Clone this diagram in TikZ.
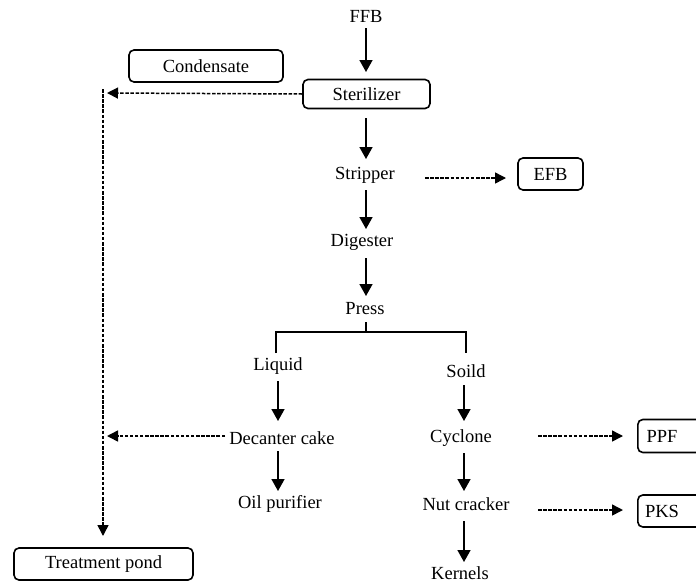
\documentclass[tikz,border=0pt]{standalone}
\usepackage{fontspec}
\setmainfont{Liberation Serif}
\usetikzlibrary{arrows.meta}
\begin{document}
\begin{tikzpicture}[x=1pt,y=-1pt,
  lbl/.style={font=\fontsize{18.5}{22}\selectfont, inner sep=0pt},
  box/.style={draw, line width=1.6pt, rounded corners=5pt, inner sep=0pt, font=\fontsize{18.5}{22}\selectfont},
  sarr/.style={line width=1.6pt, -{Triangle[length=12pt,width=13pt]}},
  darr/.style={line width=1.5pt, dash pattern=on 3.5pt off 1.6pt, -{Triangle[length=11pt,width=11pt]}},
  dline/.style={line width=1.5pt, dash pattern=on 3.5pt off 1.6pt},
  plain/.style={line width=1.6pt}]
\useasboundingbox (0,0) rectangle (696,584);
\begin{scope}
\clip (0,0) rectangle (696,584);
% nodes
\node[lbl] (ffb) at (366,16) {FFB};
\node[box, minimum width=127pt, minimum height=29pt] (ster) at (366.5,94) {Sterilizer};
\node[box, minimum width=154pt, minimum height=32pt] (cond) at (206,66) {Condensate};
\node[lbl] (strip) at (365,175) {Stripper};
\node[box, minimum width=65pt, minimum height=32pt] (efb) at (550.5,174) {EFB};
\node[lbl] (dig) at (362,242) {Digester};
\node[lbl] (press) at (365,309) {Press};
\node[lbl] (liq) at (278,366) {Liquid};
\node[lbl] (soild) at (466,371) {Soild};
\node[lbl] (dec) at (282,438) {Decanter cake};
\node[lbl] (cyc) at (461,438) {Cyclone};
\node[lbl] (oil) at (280,504) {Oil purifier};
\node[lbl] (nut) at (466,504) {Nut cracker};
\node[lbl] (ker) at (460,573) {Kernels};
\node[box, minimum width=179pt, minimum height=32pt] (tp) at (103.5,564) {Treatment pond};
\node[box, minimum width=75pt, minimum height=33pt, anchor=west] (ppfbox) at (637,436) {};
\node[lbl] (ppf) at (662,436) {PPF};
\node[box, minimum width=75pt, minimum height=32pt, anchor=west] (pksbox) at (637,511) {};
\node[lbl] (pks) at (662,511) {PKS};
% coordinates
\coordinate (c1) at (107,93);
\coordinate (v1) at (103,89);
\coordinate (v2) at (103,536);
\coordinate (c2) at (107,436);
\coordinate (bt) at (366,332);
\coordinate (bl) at (276,332);
\coordinate (br) at (466,332);
% solid arrows
\draw[sarr] (366,28) -- (366,72);
\draw[sarr] (366,118) -- (366,159);
\draw[sarr] (366,190) -- (366,229);
\draw[sarr] (366,258) -- (366,296);
\draw[sarr] (278,381) -- (278,421);
\draw[sarr] (464,385) -- (464,421);
\draw[sarr] (278,451) -- (278,491);
\draw[sarr] (464,453) -- (464,491);
\draw[sarr] (464,521) -- (464,562);
% bracket
\draw[plain] (366,322) -- (bt);
\draw[plain] (276,353) -- (bl) -- (br) -- (466,353);
% dashed
\draw[darr] (ster.west) -- (c1);
\draw[dline] (v1) -- (103,525);
\draw[darr] (103,522) -- (v2);
\draw[darr] (425,178) -- (506,178);
\draw[darr] (225,436) -- (c2);
\draw[darr] (538,436) -- (623,436);
\draw[darr] (538,510) -- (623,510);
\end{scope}
\end{tikzpicture}
\end{document}
